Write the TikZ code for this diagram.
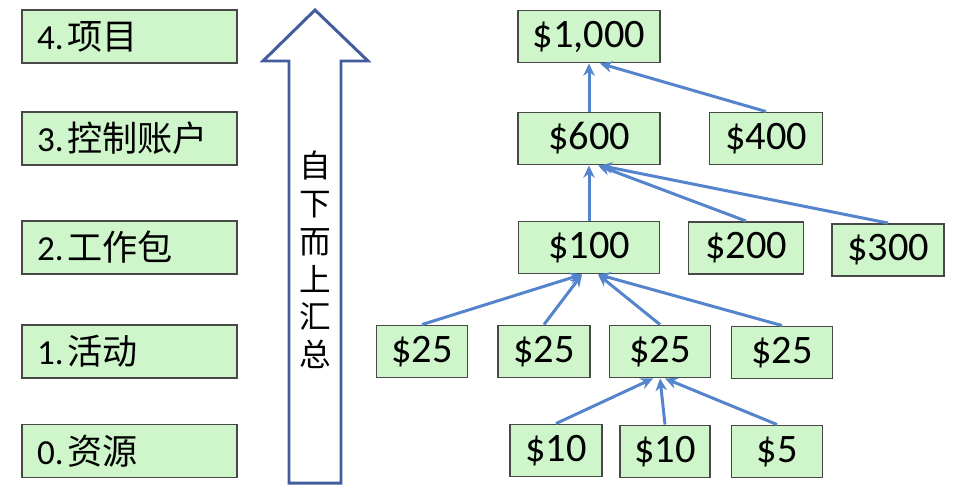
\documentclass[tikz,border=0pt]{standalone}
\usepackage{fontspec}
\setmainfont{Carlito}
\newfontfamily\cjk{Noto Sans CJK SC}
\usetikzlibrary{arrows.meta}
\definecolor{boxfill}{RGB}{206,246,202}
\definecolor{boxline}{RGB}{72,72,72}
\definecolor{flowblue}{RGB}{66,92,156}
\definecolor{linkblue}{RGB}{84,132,204}
\begin{document}
\begin{tikzpicture}[x=0.02cm, y=-0.02cm,
  levelbox/.style={draw=boxline, fill=boxfill, line width=1.1pt, minimum height=1.06cm, text width=3.7cm, inner xsep=0.3cm, align=left, font=\fontsize{20}{24}\selectfont},
  costbox/.style={draw=boxline, fill=boxfill, line width=1.1pt, minimum height=1.04cm, inner xsep=2pt, font=\fontsize{23}{27}\selectfont},
  rollup/.style={draw=linkblue, line width=1.7pt, -{Stealth[length=7pt, width=6.5pt]}}]
\useasboundingbox (0,0) rectangle (953,490);
% levels on the left
\node[levelbox] (lvl4) at (129.5,36.5) {4.\hspace{2pt}{\cjk 项目}};
\node[levelbox] (lvl3) at (129.5,138.5) {3.\hspace{2pt}{\cjk 控制账户}};
\node[levelbox] (lvl2) at (129.5,247.5) {2.\hspace{2pt}{\cjk 工作包}};
\node[levelbox] (lvl1) at (129.5,351.5) {1.\hspace{2pt}{\cjk 活动}};
\node[levelbox] (lvl0) at (129.5,451) {0.\hspace{2pt}{\cjk 资源}};
% big upward arrow
\draw[flowblue, line width=1.7pt, fill=white, line join=miter] (315,10) -- (368,61) -- (341,61) -- (341,483) -- (289,483) -- (289,61) -- (263,61) -- cycle;
\node[align=center, font=\cjk\fontsize{18}{21.5}\selectfont] (rollupword) at (315,260) {自\\下\\而\\上\\汇\\总};
% cost tree
\node[costbox, minimum width=2.84cm] (project) at (589,36.5) {\$1,000};
\node[costbox, minimum width=2.84cm] (acct600) at (589,138.5) {\$600};
\node[costbox, minimum width=2.26cm] (acct400) at (766,138.5) {\$400};
\node[costbox, minimum width=2.82cm] (pkg100) at (589,247.5) {\$100};
\node[costbox, minimum width=2.30cm] (pkg200) at (746,248) {\$200};
\node[costbox, minimum width=2.24cm] (pkg300) at (888,250) {\$300};
\node[costbox, minimum width=1.82cm] (actA) at (422,351.5) {\$25};
\node[costbox, minimum width=1.84cm] (actB) at (544,351.5) {\$25};
\node[costbox, minimum width=2.02cm] (actC) at (660,351.5) {\$25};
\node[costbox, minimum width=2.02cm] (actD) at (782,352.5) {\$25};
\node[costbox, minimum width=1.84cm] (resA) at (556,450.5) {\$10};
\node[costbox, minimum width=1.80cm] (resB) at (665,451.5) {\$10};
\node[costbox, minimum width=1.82cm] (resC) at (777,451.5) {\$5};
% roll-up links
\draw[rollup] (acct600.north) -- (project.south);
\draw[rollup] (acct400.north) -- ([xshift=0.22cm]project.south);
\draw[rollup] (pkg100.north) -- (acct600.south);
\draw[rollup] (pkg200.north) -- ([xshift=0.18cm]acct600.south);
\draw[rollup] (pkg300.north) -- ([xshift=0.22cm]acct600.south);
\draw[rollup] (actA.north) -- ([xshift=-0.14cm]pkg100.south);
\draw[rollup] (actB.north) -- ([xshift=-0.14cm]pkg100.south);
\draw[rollup] (actC.north) -- ([xshift=0.18cm]pkg100.south);
\draw[rollup] (actD.north) -- ([xshift=0.18cm]pkg100.south);
\draw[rollup] (resA.north) -- ([xshift=-0.14cm]actC.south);
\draw[rollup] (resB.north) -- (actC.south);
\draw[rollup] (resC.north) -- ([xshift=0.1cm]actC.south);
\end{tikzpicture}
\end{document}
